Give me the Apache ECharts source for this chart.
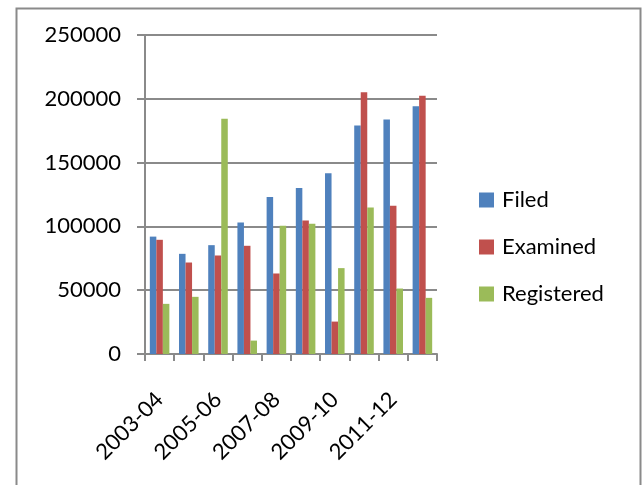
<!DOCTYPE html>
<html>
<head>
<meta charset="utf-8">
<script src="https://cdn.jsdelivr.net/npm/echarts@6/dist/echarts.min.js"></script>
<style>
html,body{margin:0;padding:0;background:#fff;}
#c{width:643px;height:485px;}
</style>
</head>
<body>
<div id="c"></div>
<script>
const categories = ['2003-04','2004-05','2005-06','2006-07','2007-08','2008-09','2009-10','2010-11','2011-12','2012-13'];
const filed = [92000, 78500, 85300, 103100, 123000, 130100, 141600, 179000, 183800, 194200];
const examined = [89500, 71700, 77200, 84800, 63100, 104700, 25400, 205200, 116200, 202400];
const registered = [39300, 44800, 184300, 10500, 100500, 102100, 67300, 114900, 51300, 44000];
const yTicks = [0, 50000, 100000, 150000, 200000, 250000];

const FONT = 'Lato';
const GRAY = '#8a8a8a';
const chart = echarts.init(document.getElementById('c'), null, {renderer:'canvas'});
chart.setOption({
  animation: false,
  backgroundColor: '#fff',
  textStyle: {fontFamily: FONT},
  graphic: [{
    type: 'rect', left: 14, top: 6, silent: true,
    shape: {x: 0, y: 0, width: 624, height: 500},
    style: {fill: 'none', stroke: GRAY, lineWidth: 2}
  }],
  grid: {left: 145, right: 206, top: 35, bottom: 131, containLabel: false},
  legend: {
    orient: 'vertical', left: 479, top: 189, padding: 0,
    itemWidth: 15, itemHeight: 15, itemGap: 25,
    icon: 'rect',
    textStyle: {fontFamily: FONT, fontSize: 22, color: '#000', lineHeight: 22, padding: [0,0,0,3]},
    data: ['Filed','Examined','Registered']
  },
  xAxis: {
    type: 'category', data: categories,
    axisLine: {lineStyle: {color: GRAY, width: 2}},
    axisTick: {show: true, length: 7, interval: 0, lineStyle: {color: GRAY, width: 2}},
    axisLabel: {interval: 1, rotate: 45, fontFamily: FONT, fontSize: 22, color: '#000', margin: 42},
    splitLine: {show: false}
  },
  yAxis: {
    type: 'value', min: yTicks[0], max: yTicks[yTicks.length-1], interval: yTicks[1]-yTicks[0],
    axisLine: {show: true, lineStyle: {color: GRAY, width: 2}},
    axisTick: {show: true, length: 8, lineStyle: {color: GRAY, width: 2}},
    axisLabel: {fontFamily: FONT, fontSize: 22, color: '#000', margin: 24, formatter: v => String(v)},
    splitLine: {show: true, lineStyle: {color: GRAY, width: 2}}
  },
  series: [
    {name: 'Filed', type: 'bar', data: filed, barGap: '0%', barCategoryGap: '33%', itemStyle: {color: '#4F81BD'}},
    {name: 'Examined', type: 'bar', data: examined, barGap: '0%', barCategoryGap: '33%', itemStyle: {color: '#C0504D'}},
    {name: 'Registered', type: 'bar', data: registered, barGap: '0%', barCategoryGap: '33%', itemStyle: {color: '#9BBB59'}}
  ]
});
</script>
</body>
</html>
